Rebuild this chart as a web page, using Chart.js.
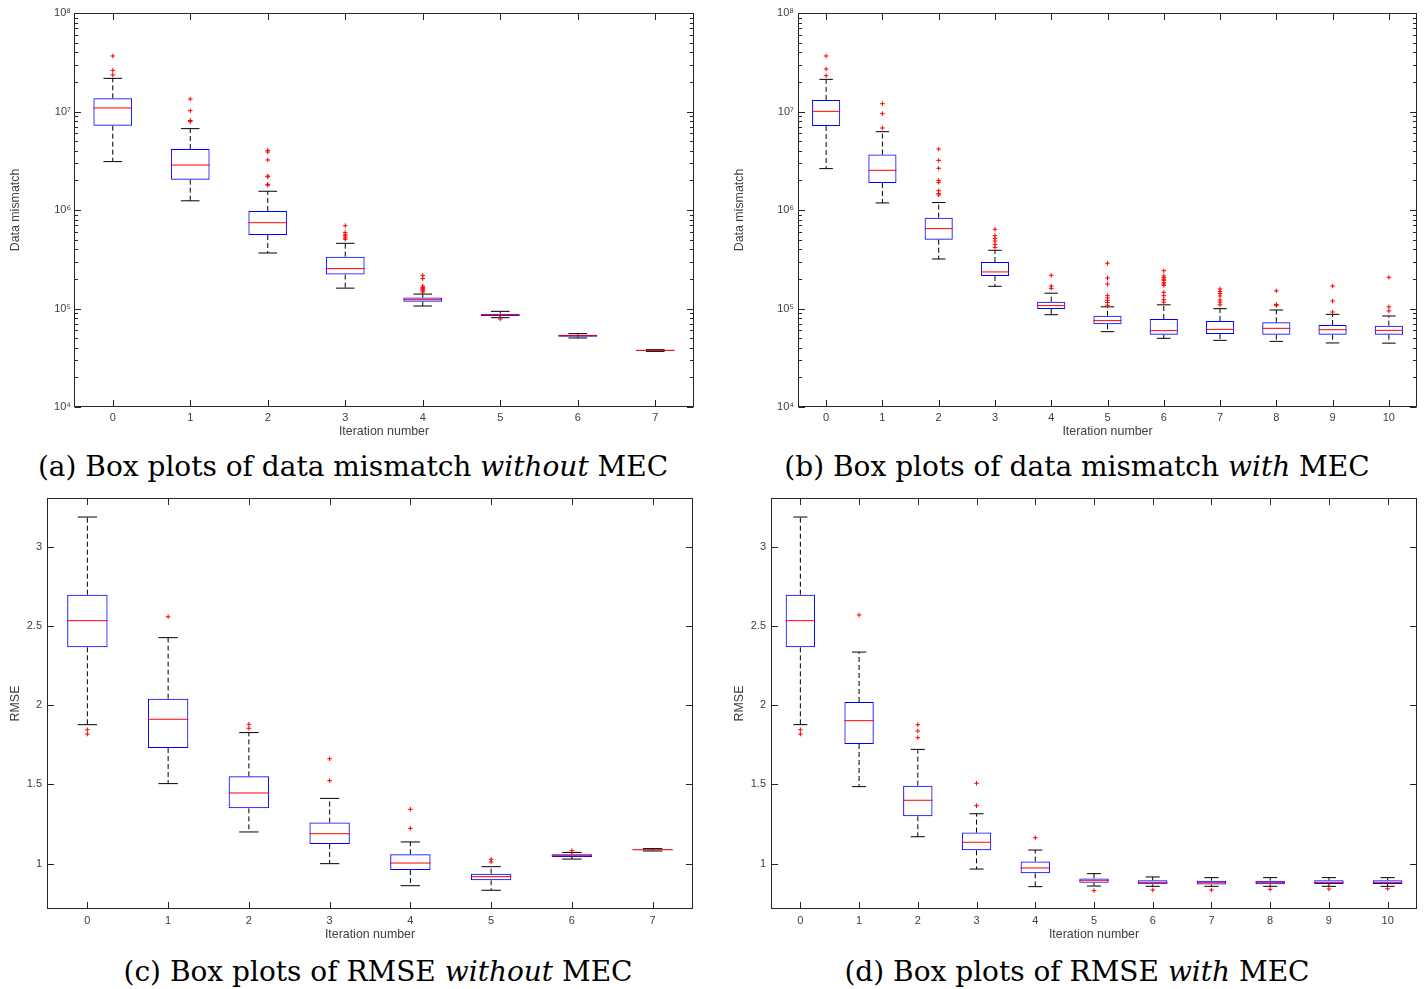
<!DOCTYPE html>
<html>
<head>
<meta charset="utf-8">
<script src="https://cdn.jsdelivr.net/npm/chart.js@4.4.1/dist/chart.umd.min.js"></script>
<style>
  body { margin: 0; background: #fff; width: 1424px; height: 989px; position: relative; overflow: hidden; }
  canvas { position: absolute; }
  .cap { position: absolute; width: 800px; text-align: center; font-family: "DejaVu Serif", serif;
         font-size: 28px; line-height: 34px; color: #000; white-space: nowrap; }
</style>
</head>
<body>
<canvas id="ca" width="712" height="445" style="left:0;top:0"></canvas>
<canvas id="cb" width="712" height="445" style="left:712px;top:0"></canvas>
<canvas id="cc" width="712" height="460" style="left:0;top:485px"></canvas>
<canvas id="cd" width="712" height="460" style="left:712px;top:485px"></canvas>
<div class="cap" style="left:-47px;top:450px">(a) Box plots of data mismatch <i>without</i> MEC</div>
<div class="cap" style="left:677px;top:450px">(b) Box plots of data mismatch <i>with</i> MEC</div>
<div class="cap" style="left:-22px;top:955px">(c) Box plots of RMSE <i>without</i> MEC</div>
<div class="cap" style="left:677px;top:955px">(d) Box plots of RMSE <i>with</i> MEC</div>
<script>
// iteration numbers
const itersA = [0, 1, 2, 3, 4, 5, 6, 7];
const itersB = [0, 1, 2, 3, 4, 5, 6, 7, 8, 9, 10];

// tick labels
const logTicks = [1e4, 1e5, 1e6, 1e7, 1e8];
const rmseTicks = [1, 1.5, 2, 2.5, 3];

// (a) data mismatch without MEC
const aLow  = [3.10e6, 1.24e6, 3.66e5, 1.61e5, 1.06e5, 8.07e4, 5.02e4, 3.67e4];
const aQ1   = [7.18e6, 2.03e6, 5.57e5, 2.21e5, 1.17e5, 8.40e4, 5.18e4, 3.73e4];
const aMed  = [1.086e7, 2.86e6, 7.43e5, 2.54e5, 1.23e5, 8.60e4, 5.30e4, 3.76e4];
const aQ3   = [1.36e7, 4.16e6, 9.77e5, 3.36e5, 1.29e5, 8.87e4, 5.42e4, 3.79e4];
const aHigh = [2.17e7, 6.70e6, 1.55e6, 4.59e5, 1.40e5, 9.36e4, 5.56e4, 3.82e4];
const aOut = [
  [3.66e7, 2.62e7, 2.35e7],
  [1.34e7, 1.02e7, 8.1e6, 7.9e6],
  [4.03e6, 3.88e6, 3.22e6, 2.21e6, 2.18e6, 1.82e6, 1.79e6],
  [6.93e5, 5.89e5, 5.6e5, 5.45e5, 5.2e5, 5.05e5],
  [2.17e5, 2.01e5, 1.69e5, 1.63e5, 1.59e5, 1.55e5, 1.51e5, 1.47e5],
  [7.82e4],
  [],
  []
];

// (b) data mismatch with MEC
const bLow  = [2.63e6, 1.18e6, 3.18e5, 1.68e5, 8.65e4, 5.82e4, 4.98e4, 4.75e4, 4.64e4, 4.47e4, 4.45e4];
const bQ1   = [7.13e6, 1.88e6, 5.00e5, 2.14e5, 9.88e4, 6.91e4, 5.42e4, 5.51e4, 5.42e4, 5.42e4, 5.42e4];
const bMed  = [1.004e7, 2.53e6, 6.47e5, 2.35e5, 1.07e5, 7.53e4, 5.96e4, 6.14e4, 6.29e4, 6.09e4, 6.00e4];
const bQ3   = [1.31e7, 3.65e6, 8.36e5, 2.97e5, 1.17e5, 8.46e4, 7.82e4, 7.46e4, 7.24e4, 6.80e4, 6.70e4];
const bHigh = [2.12e7, 6.24e6, 1.19e6, 3.90e5, 1.43e5, 1.04e5, 1.09e5, 9.96e4, 9.66e4, 8.72e4, 8.40e4];
const bOut = [
  [3.66e7, 2.70e7, 2.31e7],
  [1.20e7, 9.51e6, 6.80e6],
  [4.16e6, 3.19e6, 2.65e6, 2.00e6, 1.91e6, 1.57e6, 1.47e6, 1.42e6],
  [6.37e5, 5.49e5, 5.15e5, 4.84e5, 4.48e5, 4.18e5],
  [2.17e5, 1.69e5, 1.60e5],
  [2.88e5, 2.04e5, 1.77e5, 1.35e5, 1.28e5, 1.21e5, 1.15e5, 1.08e5],
  [2.42e5, 2.14e5, 2.06e5, 1.98e5, 1.93e5, 1.83e5, 1.77e5, 1.72e5, 1.46e5, 1.35e5, 1.23e5, 1.16e5],
  [1.58e5, 1.49e5, 1.42e5, 1.34e5, 1.22e5, 1.16e5, 1.09e5],
  [1.51e5, 1.10e5, 1.07e5],
  [1.69e5, 1.19e5, 9.21e4],
  [2.07e5, 1.04e5, 9.44e4]
];

// (c) RMSE without MEC
const cLow  = [1.877, 1.505, 1.200, 1.000, 0.861, 0.832, 1.029, 1.080];
const cQ1   = [2.365, 1.730, 1.349, 1.124, 0.960, 0.895, 1.042, 1.084];
const cMed  = [2.533, 1.911, 1.446, 1.189, 1.004, 0.918, 1.050, 1.088];
const cQ3   = [2.697, 2.041, 1.551, 1.259, 1.059, 0.937, 1.059, 1.090];
const cHigh = [3.187, 2.426, 1.827, 1.412, 1.137, 0.981, 1.071, 1.095];
const cOut = [[1.845, 1.818], [2.558], [1.879, 1.854], [1.662, 1.524], [1.343, 1.223], [1.027, 1.011], [1.082], []];

// (d) RMSE with MEC
const dLow  = [1.877, 1.486, 1.170, 0.966, 0.855, 0.859, 0.857, 0.857, 0.857, 0.857, 0.857];
const dQ1   = [2.365, 1.755, 1.299, 1.084, 0.939, 0.880, 0.870, 0.868, 0.870, 0.872, 0.872];
const dMed  = [2.533, 1.902, 1.400, 1.135, 0.973, 0.895, 0.882, 0.880, 0.882, 0.882, 0.882];
const dQ3   = [2.697, 2.020, 1.492, 1.196, 1.013, 0.907, 0.895, 0.893, 0.893, 0.895, 0.895];
const dHigh = [3.187, 2.335, 1.721, 1.315, 1.086, 0.937, 0.916, 0.912, 0.912, 0.912, 0.912];
const dOut = [[1.845, 1.818], [2.569], [1.877, 1.837, 1.795], [1.507, 1.366], [1.164], [0.830], [0.834], [0.834], [0.838], [0.840], [0.842]];

const textColor = "#404040";
const axisColor = "#262626";
Chart.defaults.font.family = "'Liberation Sans', Arial, sans-serif";
Chart.defaults.color = textColor;

const sup = "⁰¹²³⁴⁵⁶⁷⁸⁹";

// matlab style frame with inward ticks on all four sides
const axisFrame = {
  id: "axisFrame",
  afterDraw(chart, args, opts) {
    const { ctx, chartArea: a, scales: { x, y } } = chart;
    const L = Math.round(a.left) + 0.5, R = Math.round(a.right) - 0.5;
    const T = Math.round(a.top) + 0.5, B = Math.round(a.bottom) - 0.5;
    ctx.save();
    ctx.strokeStyle = axisColor;
    ctx.lineWidth = 1;
    ctx.beginPath();
    x.ticks.forEach((t) => {
      const px = Math.round(x.getPixelForValue(t.value)) + 0.5;
      ctx.moveTo(px, B); ctx.lineTo(px, B - 6.5);
      ctx.moveTo(px, T); ctx.lineTo(px, T + 6.5);
    });
    y.ticks.forEach((t) => {
      const py = Math.round(y.getPixelForValue(t.value)) + 0.5;
      ctx.moveTo(L, py); ctx.lineTo(L + 6.5, py);
      ctx.moveTo(R, py); ctx.lineTo(R - 6.5, py);
    });
    if (opts.minor) {
      for (let d = 4; d < 8; d++) {
        for (let k = 2; k < 10; k++) {
          const py = Math.round(y.getPixelForValue(k * Math.pow(10, d))) + 0.5;
          ctx.moveTo(L, py); ctx.lineTo(L + 3.5, py);
          ctx.moveTo(R, py); ctx.lineTo(R - 3.5, py);
        }
      }
    }
    ctx.stroke();
    ctx.strokeRect(L, T, R - L, B - T);
    ctx.restore();
  }
};

const pxPerUnit = (c, u) => {
  const s = c.chart.scales.x;
  return s.getPixelForValue(u) - s.getPixelForValue(0);
};

function boxDatasets(iters, low, q1, med, q3, high, outs) {
  const whisk = [];
  const caps = [];
  const outPts = [];
  iters.forEach((it, i) => {
    whisk.push({ x: it, y: q3[i] }, { x: it, y: high[i] }, { x: it, y: null });
    whisk.push({ x: it, y: q1[i] }, { x: it, y: low[i] }, { x: it, y: null });
    caps.push({ x: it, y: low[i] }, { x: it, y: high[i] });
    outs[i].forEach((v) => outPts.push({ x: it, y: v }));
  });
  return [
    {
      type: "scatter", data: outPts, pointStyle: "cross", pointRadius: 2.3,
      pointBorderColor: "#ff0000", pointBackgroundColor: "#ff0000", pointBorderWidth: 1
    },
    {
      type: "scatter", data: iters.map((it, i) => ({ x: it, y: med[i] })),
      pointStyle: "line", pointRadius: (c) => pxPerUnit(c, 0.25),
      pointBorderColor: "#ff0000", pointBorderWidth: 1
    },
    {
      type: "bar", data: iters.map((it, i) => ({ x: it, y: [q1[i], q3[i]] })),
      backgroundColor: "rgba(0,0,0,0)", borderColor: "#0000ff", borderWidth: 1,
      borderSkipped: false, categoryPercentage: 1, barPercentage: 0.5
    },
    {
      type: "scatter", data: caps, pointStyle: "line",
      pointRadius: (c) => pxPerUnit(c, 0.12),
      pointBorderColor: "#000000", pointBorderWidth: 1
    },
    {
      type: "line", data: whisk, borderColor: "#000000", borderWidth: 1,
      borderDash: [5, 3], pointRadius: 0, spanGaps: false, fill: false
    }
  ];
}

function makeChart(id, g, iters, sets, logY, yTitle) {
  const yScale = logY
    ? {
        type: "logarithmic", min: 1e4, max: 1e8,
        afterBuildTicks: (s) => { s.ticks = logTicks.map((v) => ({ value: v })); },
        ticks: {
          padding: g.yPad, font: { size: 11 },
          callback: (v) => "10" + String(Math.round(Math.log10(v))).split("").map((d) => sup[d]).join("")
        }
      }
    : {
        type: "linear", min: 0.714, max: 3.307,
        afterBuildTicks: (s) => { s.ticks = rmseTicks.map((v) => ({ value: v })); },
        ticks: { padding: g.yPad, font: { size: 11 }, callback: (v) => String(v) }
      };
  Object.assign(yScale, {
    grid: { display: false, drawTicks: false },
    border: { display: false },
    title: { display: true, text: yTitle, font: { size: 12.4 }, padding: { top: g.yTitlePad, bottom: 0 } },
    afterFit: (s) => { s.width = g.yWidth; }
  });

  return new Chart(document.getElementById(id), {
    type: "bar",
    data: { datasets: sets },
    options: {
      responsive: false,
      animation: false,
      layout: { padding: { top: g.top, right: g.right, left: 0, bottom: 0 } },
      plugins: { legend: { display: false }, tooltip: { enabled: false }, axisFrame: { minor: logY } },
      scales: {
        x: {
          type: "linear", min: -0.5, max: iters.length - 0.5, offset: false,
          afterBuildTicks: (s) => { s.ticks = iters.map((v) => ({ value: v })); },
          grid: { display: false, drawTicks: false },
          border: { display: false },
          ticks: { padding: g.xPad, font: { size: 11 }, maxRotation: 0, callback: (v) => String(v) },
          title: { display: true, text: "Iteration number", font: { size: 12.4 }, padding: { top: 0, bottom: g.xTitlePad } },
          afterFit: (s) => { s.height = g.xHeight; }
        },
        y: yScale
      }
    },
    plugins: [axisFrame]
  });
}

makeChart("ca", { yWidth: 74, top: 13, right: 18, xHeight: 38, xPad: 4, xTitlePad: 5.8, yPad: 3, yTitlePad: 7.8 },
  itersA, boxDatasets(itersA, aLow, aQ1, aMed, aQ3, aHigh, aOut), true, "Data mismatch");
makeChart("cb", { yWidth: 86, top: 13, right: 7, xHeight: 38, xPad: 4, xTitlePad: 5.8, yPad: 4, yTitlePad: 19.8 },
  itersB, boxDatasets(itersB, bLow, bQ1, bMed, bQ3, bHigh, bOut), true, "Data mismatch");
makeChart("cc", { yWidth: 47, top: 13, right: 19, xHeight: 36, xPad: 5.5, xTitlePad: 2.8, yPad: 5, yTitlePad: 7.8 },
  itersA, boxDatasets(itersA, cLow, cQ1, cMed, cQ3, cHigh, cOut), false, "RMSE");
makeChart("cd", { yWidth: 59, top: 13, right: 7, xHeight: 36, xPad: 5.5, xTitlePad: 2.8, yPad: 5, yTitlePad: 19.8 },
  itersB, boxDatasets(itersB, dLow, dQ1, dMed, dQ3, dHigh, dOut), false, "RMSE");
</script>
</body>
</html>
